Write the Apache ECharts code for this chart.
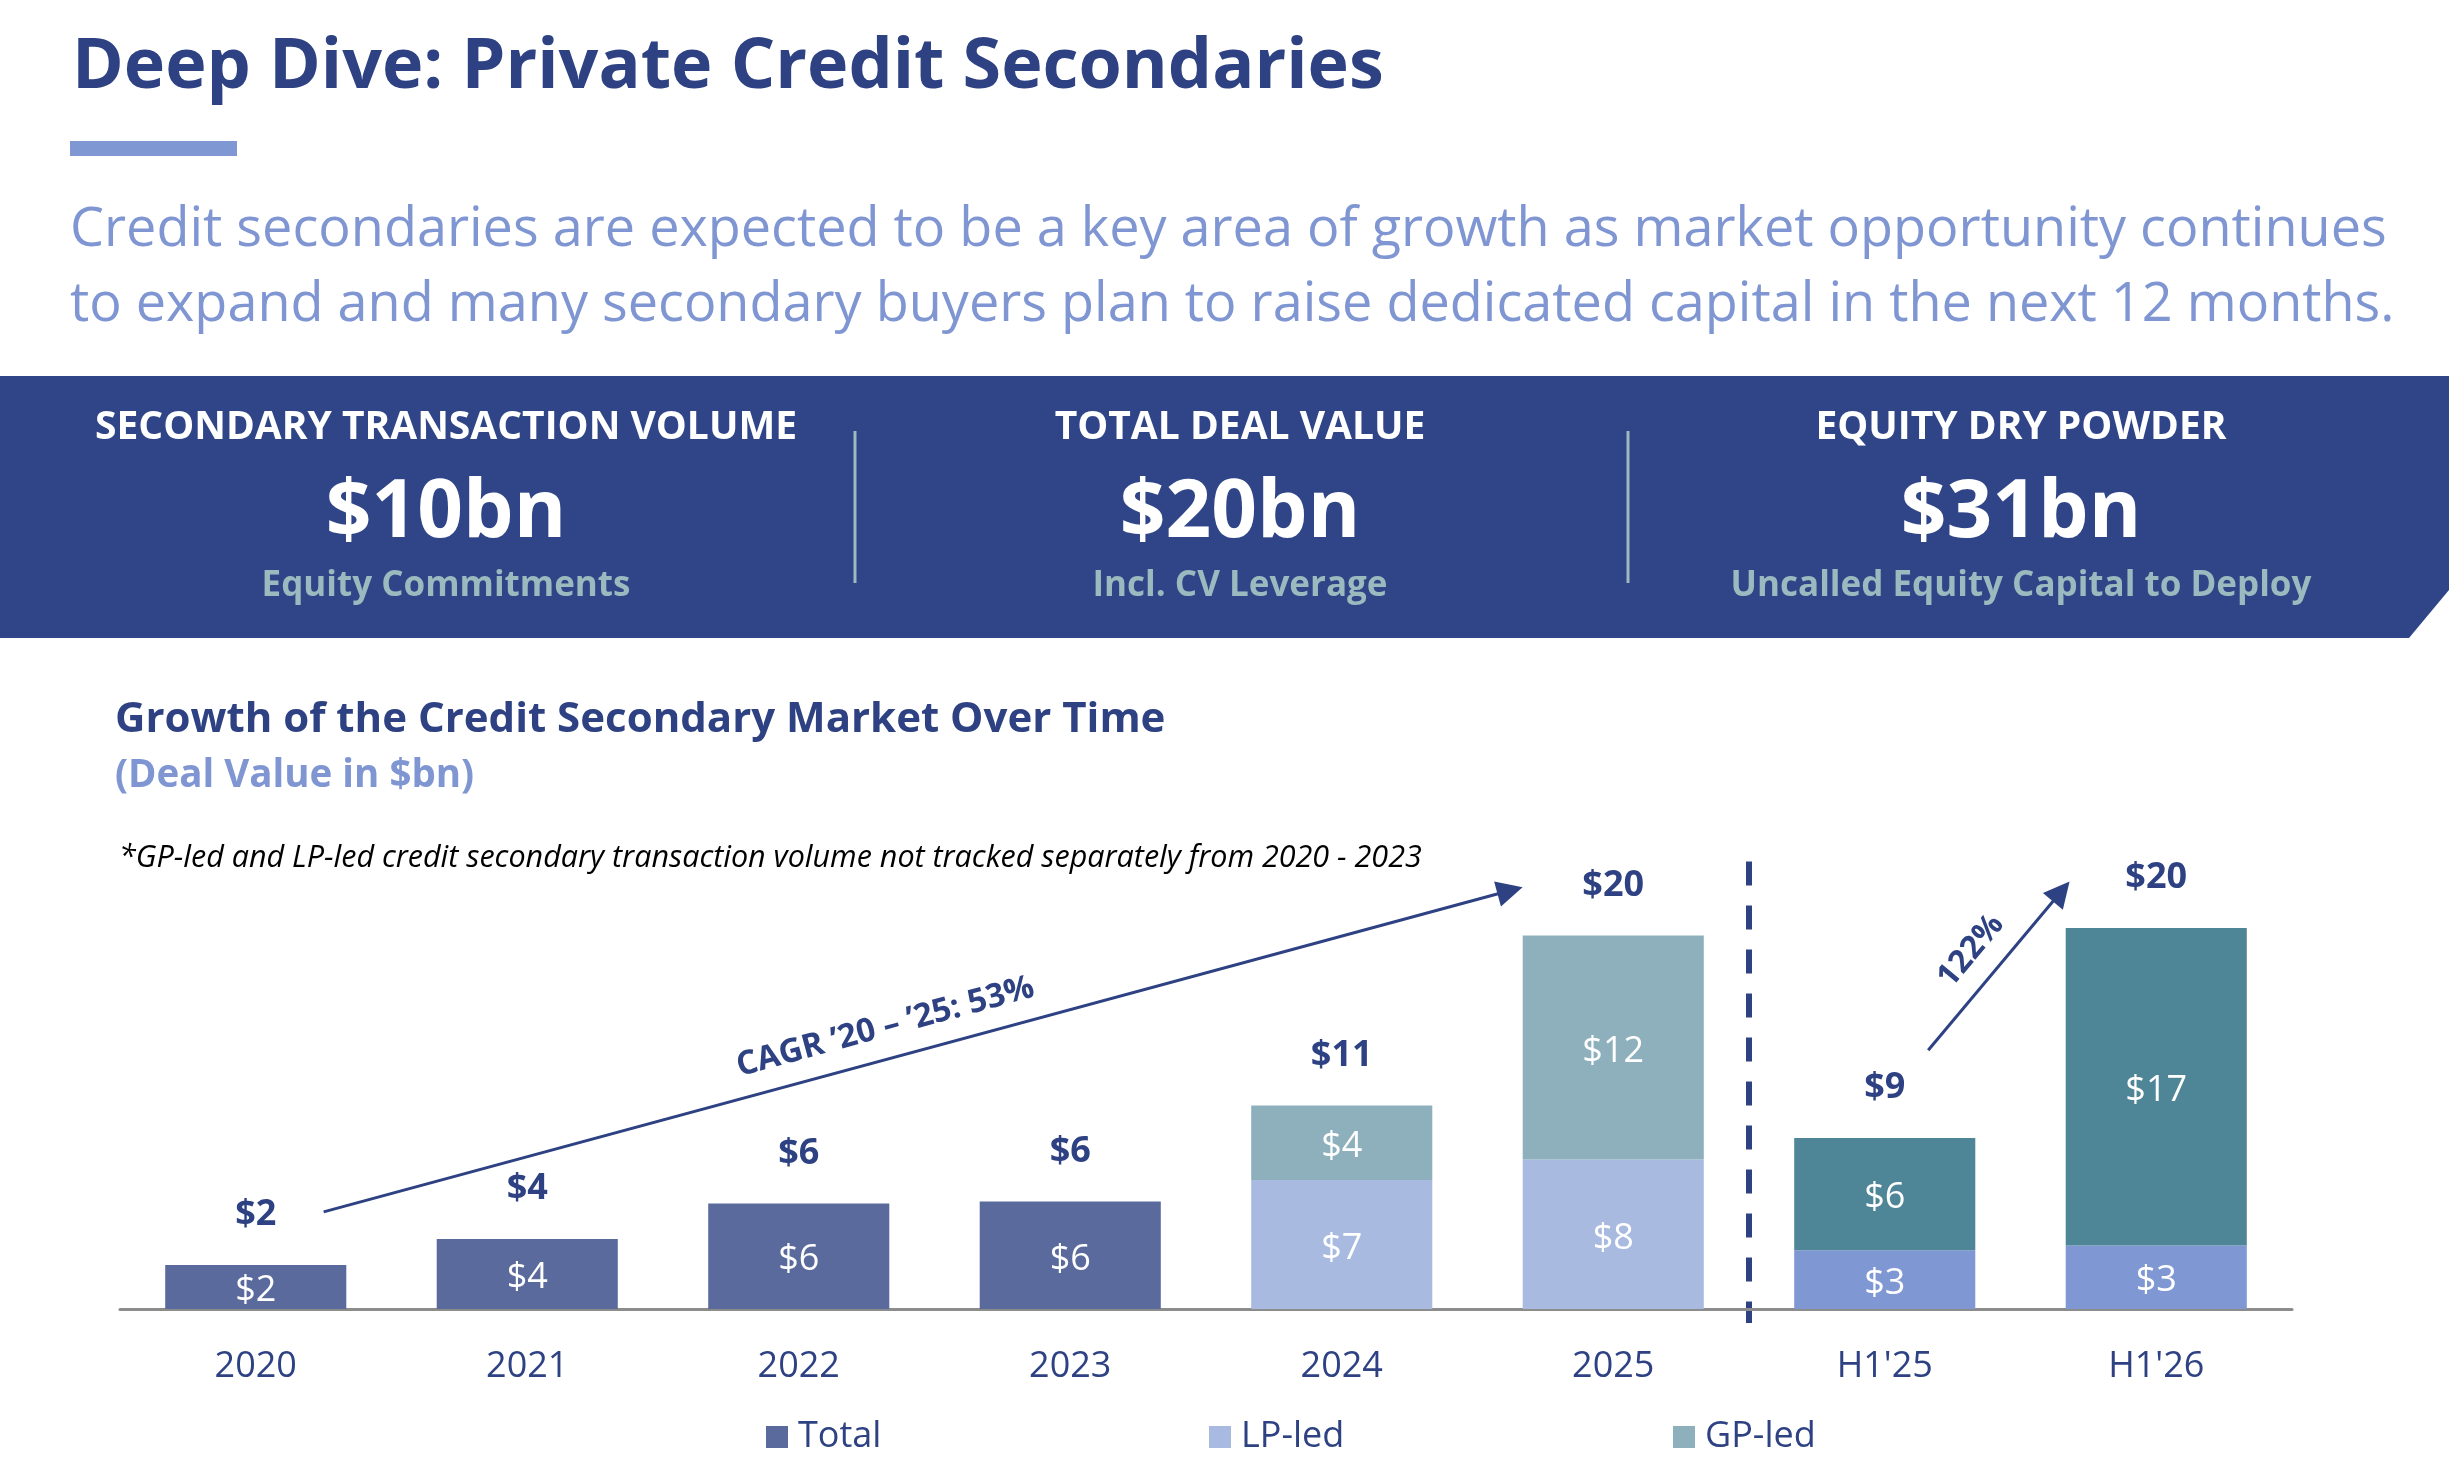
<!DOCTYPE html>
<html>
<head>
<meta charset="utf-8">
<title>Deep Dive: Private Credit Secondaries</title>
<script src="https://cdn.jsdelivr.net/npm/echarts@6/dist/echarts.min.js"></script>
<style>
    html, body { margin: 0; padding: 0; background: #fff; }
    #chart { width: 2449px; height: 1474px; }
</style>
</head>
<body>
<div id="chart"></div>
<script>
// chart data ($bn)
const categories = ['2020', '2021', '2022', '2023', '2024', '2025', "H1'25", "H1'26"];
const totalValues = [2.35, 3.75, 5.65, 5.75, null, null, null, null];
const lpValues = [null, null, null, null, 6.9, 8.0, 3.15, 3.4];
const gpValues = [null, null, null, null, 4.0, 12.0, 6.0, 17.0];
const halfYearIndex = [6, 7];

// annotation arrows, in [category position, $bn]
const cagrArrow = [[0.25, 5.2], [4.62, 22.4]];
const halfArrow = [[6.16, 13.85], [6.65, 22.35]];
const dividerAt = 5.5;

// banner figures
const kpiTitles = ['SECONDARY TRANSACTION VOLUME', 'TOTAL DEAL VALUE', 'EQUITY DRY POWDER'];
const kpiValues = ['$10bn', '$20bn', '$31bn'];
const kpiNotes = ['Equity Commitments', 'Incl. CV Leverage', 'Uncalled Equity Capital to Deploy'];

const NAVY = '#2e4283';
const FONT = 'Open Sans';
const colors = {
    total: '#5a6a9d',
    lp: '#a9bae1',
    gp: '#8eb0bd',
    lpHalf: '#7f98d3',
    gpHalf: '#4e8597'
};

const totals = categories.map((c, i) => (totalValues[i] || 0) + (lpValues[i] || 0) + (gpValues[i] || 0));

function withHalfColor(values, color) {
    return values.map((v, i) => halfYearIndex.indexOf(i) >= 0 ? { value: v, itemStyle: { color: color } } : v);
}

const innerLabel = {
    show: true,
    position: 'inside',
    offset: [0, 4],
    color: '#fff',
    fontSize: 36,
    fontFamily: FONT,
    formatter: p => '$' + Math.round(p.value)
};

function legendAt(name, left) {
    return {
        data: [name],
        left: left,
        top: 1414,
        icon: 'rect',
        itemWidth: 22,
        itemHeight: 22,
        selectedMode: false,
        textStyle: { color: NAVY, fontSize: 36, fontFamily: FONT, padding: [0, 0, 0, 5] }
    };
}

let chartElem = document.getElementById('chart');
let chart = echarts.init(chartElem);
chart.setOption({
    animation: false,
    textStyle: { fontFamily: FONT },
    legend: [legendAt('Total', 761), legendAt('LP-led', 1204), legendAt('GP-led', 1668)],
    grid: { left: 120, right: 157, top: 842, bottom: 165 },
    xAxis: [{
        type: 'category',
        data: categories,
        axisTick: { show: false },
        axisLine: { lineStyle: { color: '#8c8c8c', width: 3 } },
        axisLabel: { color: NAVY, fontSize: 36, fontFamily: FONT, margin: 40 }
    }, {
        type: 'value',
        min: -0.5,
        max: 7.5,
        show: false
    }],
    yAxis: { type: 'value', min: 0, max: 25, show: false },
    series: [{
        name: 'Total',
        type: 'bar',
        stack: 'deal',
        barWidth: '66.7%',
        color: colors.total,
        data: totalValues,
        label: innerLabel
    }, {
        name: 'LP-led',
        type: 'bar',
        stack: 'deal',
        color: colors.lp,
        data: withHalfColor(lpValues, colors.lpHalf),
        label: innerLabel
    }, {
        name: 'GP-led',
        type: 'bar',
        stack: 'deal',
        color: colors.gp,
        data: withHalfColor(gpValues, colors.gpHalf),
        label: innerLabel
    }, {
        name: 'Sum',
        type: 'bar',
        barWidth: '66.7%',
        barGap: '-100%',
        silent: true,
        itemStyle: { color: 'rgba(0,0,0,0)' },
        data: totals,
        label: {
            show: true,
            position: 'top',
            distance: 32,
            color: NAVY,
            fontSize: 36,
            fontWeight: 'bold',
            fontFamily: FONT,
            formatter: p => '$' + Math.round(p.value)
        }
    }, {
        name: 'Arrows',
        type: 'scatter',
        xAxisIndex: 1,
        data: [],
        markLine: {
            silent: true,
            symbol: ['none', 'triangle'],
            symbolSize: 26,
            lineStyle: { color: NAVY, width: 3, type: 'solid' },
            label: {
                show: true,
                position: 'middle',
                color: NAVY,
                fontSize: 33,
                fontWeight: 'bold',
                fontFamily: FONT,
                distance: 15
            },
            data: [
                [{ coord: cagrArrow[0], label: { formatter: 'CAGR \u201920 \u2013 \u201925: 53%', padding: [0, 48, 0, 0] } },
                 { coord: cagrArrow[1] }],
                [{ coord: halfArrow[0], label: { formatter: '122%', fontSize: 32, distance: 15 } },
                 { coord: halfArrow[1] }]
            ]
        }
    }]
});

// page furniture around the chart
const divX = chart.convertToPixel({ xAxisIndex: 1 }, dividerAt);
const divTop = chart.convertToPixel({ yAxisIndex: 0 }, 23.95);
const baseY = chart.convertToPixel({ yAxisIndex: 0 }, 0);

function txt(text, x, y, size, color, weight, align, style) {
    return {
        type: 'text',
        x: x,
        y: y,
        silent: true,
        style: {
            text: text,
            fill: color,
            fontSize: size,
            fontWeight: weight || 'normal',
            fontStyle: style || 'normal',
            fontFamily: FONT,
            align: align || 'left',
            verticalAlign: 'middle'
        }
    };
}

const kpiCenters = [446, 1240, 2021];
let elements = [
    txt('Deep Dive: Private Credit Secondaries', 72, 68, 70, NAVY, 'bold'),
    { type: 'rect', shape: { x: 70, y: 141, width: 167, height: 15 }, style: { fill: '#7f97d3' } },
    txt('Credit secondaries are expected to be a key area of growth as market opportunity continues', 70, 231, 54, '#7f96d2'),
    txt('to expand and many secondary buyers plan to raise dedicated capital in the next 12 months.', 70, 306, 54, '#7f96d2'),
    {
        type: 'polygon',
        shape: { points: [[0, 376], [2449, 376], [2449, 590], [2409, 638], [0, 638]] },
        style: { fill: '#2f4587' }
    },
    { type: 'line', shape: { x1: 855, y1: 431, x2: 855, y2: 583 }, style: { stroke: '#9fb9bf', lineWidth: 3 } },
    { type: 'line', shape: { x1: 1628, y1: 431, x2: 1628, y2: 583 }, style: { stroke: '#9fb9bf', lineWidth: 3 } },
    txt('Growth of the Credit Secondary Market Over Time', 115, 720, 42, NAVY, 'bold'),
    txt('(Deal Value in $bn)', 115, 776, 38.5, '#7f96d2', 'bold'),
    txt('*GP-led and LP-led credit secondary transaction volume not tracked separately from 2020 - 2023', 119, 858, 30.5, '#000', 'normal', 'left', 'italic'),
    {
        type: 'line',
        shape: { x1: divX, y1: divTop, x2: divX, y2: baseY + 14 },
        style: { stroke: NAVY, lineWidth: 6, lineDash: [24, 20] }
    }
];
kpiCenters.forEach((cx, i) => {
    elements.push(txt(kpiTitles[i], cx, 428, 39, '#fff', 'bold', 'center'));
    elements.push(txt(kpiValues[i], cx, 514, 80, '#fff', 'bold', 'center'));
    elements.push(txt(kpiNotes[i], cx, 586, 35, '#9bbabf', 'bold', 'center'));
});
chart.setOption({ graphic: { elements: elements } });
</script>
</body>
</html>
